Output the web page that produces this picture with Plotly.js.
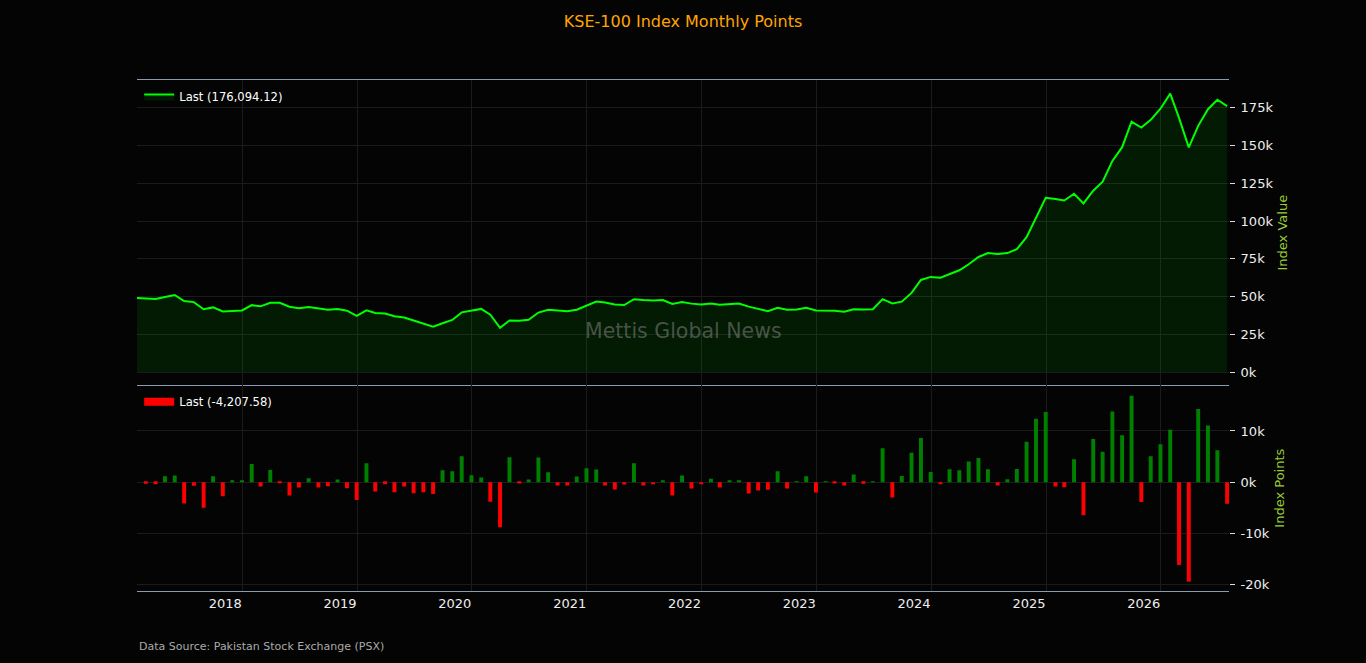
<!DOCTYPE html>
<html>
<head>
<meta charset="utf-8">
<script src="https://cdn.plot.ly/plotly-3.0.1.min.js"></script>
<style>
  html, body { margin: 0; padding: 0; background: #040404; }
</style>
</head>
<body>
<div id="kse_plot"></div>
<script>
// month-end closes, Jan 2017 .. Jul 2026
const first_month = [2017, 1]
const index_close = [
    49100, 48800, 48400, 49650, 51000, 47000, 46300, 41600, 42800, 40100, 40500, 40800,
    44300, 43500, 45900, 45850, 43250, 42200, 43000, 41950, 41200, 41800, 40600, 37200,
    40900, 39150, 38800, 36950, 36100, 34100, 32200, 30000, 32300, 34500, 39500, 40900,
    41800, 38000, 29300, 34200, 34000, 34600, 39400, 41300, 40800, 40200, 41300, 43900,
    46700, 46100, 44800, 44400, 48200, 47700, 47400, 47700, 45100, 46400, 45300, 44800,
    45400, 44500, 45200, 45400, 43300, 41800, 40300, 42500, 41300, 41400, 42600, 40700,
    40800, 40600, 40000, 41600, 41400, 41600, 48300, 45400, 46600, 52400, 61000, 63000,
    62500, 65100, 67400, 71400, 76200, 78800, 78200, 78800, 81400, 89300, 101700, 115400,
    114600, 113600, 118100, 111700, 120100, 126000, 139800, 148900, 165800, 161900, 167000, 174400,
    184400, 168300, 148800, 163050, 174070, 180301.70, 176094.12
]

// month over month change, Feb 2017 .. Jul 2026
const monthly_change = [
    -300, -380, 1150, 1330, -4150, -680, -4950, 1150, -2750, 350, 320,
    3550, -820, 2380, -60, -2580, -1030, 760, -1020, -800, 560, -1170, -3450,
    3700, -1780, -380, -1950, -840, -2150, -1960, -2300, 2320, 2150, 5050, 1350,
    920, -3780, -8760, 4870, -230, 530, 4850, 1930, -620, -640, 1140, 2750,
    2480, -620, -1420, -420, 3700, -610, -390, 340, -2580, 1320, -1220, -410,
    690, -1030, 360, 320, -2170, -1610, -1460, 2150, -1240, 120, 1150, -1980,
    110, -250, -630, 1520, -270, 140, 6650, -2980, 1210, 5760, 8620, 1980,
    -410, 2560, 2330, 4050, 4750, 2560, -610, 580, 2570, 7900, 12380, 13720,
    -820, -980, 4470, -6430, 8440, 5930, 13780, 9150, 16870, -3870, 5080, 7420,
    10250, -16120, -19380, 14280, 11050, 6230, -4207.58
]

const value_ticks = [0, 25000, 50000, 75000, 100000, 125000, 150000, 175000]
const value_labels = ['0k', '25k', '50k', '75k', '100k', '125k', '150k', '175k']
const points_ticks = [-20000, -10000, 0, 10000]
const points_labels = ['-20k', '-10k', '0k', '10k']

function month_ends(year, month, count) {
    let out = []
    for (let i = 0; i < count; i++) {
        let y = year + Math.floor((month - 1 + i) / 12)
        let m = (month - 1 + i) % 12
        let d = new Date(Date.UTC(y, m + 1, 0)).getUTCDate()
        out.push(y + '-' + String(m + 1).padStart(2, '0') + '-' + String(d).padStart(2, '0'))
    }
    return out
}

function fmt(v) {
    return v.toLocaleString('en-US', {minimumFractionDigits: 2, maximumFractionDigits: 2})
}

const dates = month_ends(first_month[0], first_month[1], index_close.length)
const change_dates = dates.slice(1)
const last_close = index_close[index_close.length - 1]
const last_change = monthly_change[monthly_change.length - 1]

const grid = '#1b1b1b'
const frame = '#8b9ab3'
const split = 0.4025

const close_trace = {
    type: 'scatter',
    mode: 'lines',
    x: dates,
    y: index_close,
    name: 'Last (' + fmt(last_close) + ')',
    line: {color: '#00ff00', width: 2},
    fill: 'tozeroy',
    fillcolor: 'rgba(0,255,0,0.09)',
    xaxis: 'x',
    yaxis: 'y',
    legend: 'legend',
    hoverinfo: 'x+y',
}

const change_trace = {
    type: 'bar',
    x: change_dates,
    y: monthly_change,
    width: 12.5 * 86400000,
    marker: {color: monthly_change.map(v => v >= 0 ? '#008000' : '#ff0000')},
    xaxis: 'x2',
    yaxis: 'y2',
    showlegend: false,
}

// legend proxy so the swatch is a flat bar like the original
const change_key = {
    type: 'scatter',
    mode: 'lines',
    x: [null],
    y: [null],
    name: 'Last (' + fmt(last_change) + ')',
    line: {color: '#ff0000', width: 8},
    xaxis: 'x2',
    yaxis: 'y2',
    legend: 'legend2',
}

const x_common = {
    type: 'date',
    range: ['2017-01-31', '2026-08-06'],
    dtick: 'M12',
    tick0: '2018-01-01',
    showgrid: true,
    gridcolor: grid,
    gridwidth: 1,
    showline: true,
    linecolor: frame,
    linewidth: 1,
    zeroline: false,
}

const y_common = {
    side: 'right',
    ticks: 'outside',
    ticklen: 5,
    tickcolor: '#dddddd',
    ticklabelstandoff: 3,
    tickfont: {size: 13, color: '#eeeeee'},
    showgrid: true,
    gridcolor: grid,
    zeroline: false,
    showline: false,
}

const layout = {
    width: 1366,
    height: 663,
    paper_bgcolor: '#040404',
    plot_bgcolor: '#040404',
    font: {family: 'DejaVu Sans, sans-serif', color: '#eeeeee', size: 13},
    title: {
        text: 'KSE-100 Index Monthly Points',
        font: {color: '#ffa500', size: 16},
        x: 0.5, xanchor: 'center',
        y: 0.968, yanchor: 'middle',
    },
    margin: {t: 80, r: 137, b: 72, l: 137},
    showlegend: true,
    legend: {
        x: 0.002, y: 0.996, xanchor: 'left', yanchor: 'top',
        bgcolor: 'rgba(0,0,0,0)',
        font: {size: 11.6, color: '#ffffff'},
    },
    legend2: {
        x: 0.002, y: split - 0.004, xanchor: 'left', yanchor: 'top',
        bgcolor: 'rgba(0,0,0,0)',
        font: {size: 11.6, color: '#ffffff'},
    },
    xaxis: Object.assign({}, x_common, {
        anchor: 'y',
        mirror: true,
        showticklabels: false,
        ticks: '',
    }),
    xaxis2: Object.assign({}, x_common, {
        anchor: 'y2',
        matches: 'x',
        tickformat: '%Y',
        ticks: '',
        ticklabelposition: 'outside left',
        tickfont: {size: 13, color: '#eeeeee'},
    }),
    yaxis: Object.assign({}, y_common, {
        domain: [split, 1],
        anchor: 'x',
        range: [-8800, 193400],
        tickvals: value_ticks,
        ticktext: value_labels,
        title: {text: 'Index Value', font: {color: '#9acd32', size: 13}},
    }),
    yaxis2: Object.assign({}, y_common, {
        domain: [0, split],
        anchor: 'x2',
        range: [-21200, 18900],
        tickvals: points_ticks,
        ticktext: points_labels,
        title: {text: 'Index Points', font: {color: '#9acd32', size: 13}},
    }),
    annotations: [
        {
            text: 'Mettis Global News',
            xref: 'paper', yref: 'paper',
            x: 0.5, y: 0.5085,
            xanchor: 'center', yanchor: 'middle',
            showarrow: false,
            font: {size: 20.5, color: 'rgba(140,140,140,0.5)'},
        },
        {
            text: 'Data Source: Pakistan Stock Exchange (PSX)',
            xref: 'paper', yref: 'paper',
            x: 0, y: -0.108,
            xanchor: 'left', yanchor: 'middle',
            showarrow: false,
            font: {size: 11, color: '#aaaaaa'},
        },
    ],
}

Plotly.newPlot('kse_plot', [close_trace, change_trace, change_key], layout, {displayModeBar: false})
</script>
</body>
</html>
